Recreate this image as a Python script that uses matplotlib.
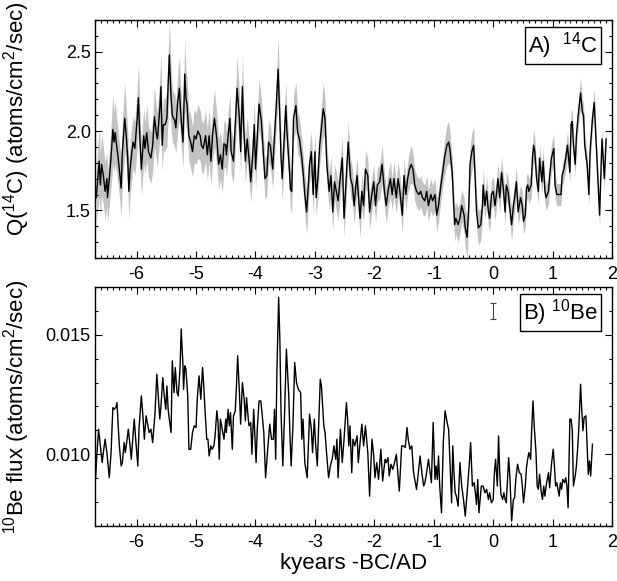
import numpy as np
import matplotlib
matplotlib.use("Agg")
import matplotlib.pyplot as plt
from matplotlib.ticker import MultipleLocator

plt.rcParams['font.family'] = ['Liberation Sans', 'DejaVu Sans']
plt.rcParams['mathtext.fontset'] = 'custom'
plt.rcParams['mathtext.rm'] = 'Liberation Sans'
plt.rcParams['axes.unicode_minus'] = False

# --- 14C production rate (kyears BC/AD) ---
c14_year = np.array([
    -6.68, -6.65, -6.63, -6.61, -6.59, -6.56, -6.53, -6.50, -6.49, -6.46,
    -6.44, -6.42, -6.40, -6.38, -6.36, -6.34, -6.31, -6.28, -6.26, -6.24,
    -6.20, -6.17, -6.15, -6.13, -6.11, -6.08, -6.06, -6.03, -5.99, -5.97,
    -5.94, -5.92, -5.88, -5.86, -5.83, -5.80, -5.76, -5.73, -5.70, -5.67,
    -5.65, -5.61, -5.59, -5.57, -5.55, -5.52, -5.49, -5.47, -5.45, -5.42,
    -5.40, -5.38, -5.36, -5.34, -5.31, -5.28, -5.26, -5.22, -5.19, -5.17,
    -5.15, -5.12, -5.09, -5.06, -5.03, -5.00, -4.97, -4.93, -4.91, -4.88,
    -4.84, -4.81, -4.78, -4.75, -4.72, -4.69, -4.65, -4.62, -4.59, -4.56,
    -4.53, -4.50, -4.49, -4.46, -4.43, -4.41, -4.37, -4.35, -4.31, -4.27,
    -4.25, -4.22, -4.20, -4.17, -4.14, -4.10, -4.08, -4.05, -4.02, -4.00,
    -3.97, -3.94, -3.90, -3.87, -3.84, -3.81, -3.78, -3.75, -3.71, -3.68,
    -3.65, -3.62, -3.59, -3.57, -3.55, -3.52, -3.49, -3.47, -3.43, -3.41,
    -3.39, -3.36, -3.32, -3.29, -3.26, -3.22, -3.19, -3.17, -3.14, -3.11,
    -3.09, -3.06, -3.03, -3.00, -2.98, -2.95, -2.92, -2.89, -2.86, -2.83,
    -2.80, -2.76, -2.73, -2.70, -2.67, -2.64, -2.61, -2.57, -2.54, -2.51,
    -2.47, -2.44, -2.40, -2.37, -2.34, -2.31, -2.29, -2.27, -2.24, -2.21,
    -2.18, -2.15, -2.11, -2.08, -2.05, -2.01, -1.98, -1.95, -1.91, -1.87,
    -1.83, -1.80, -1.77, -1.73, -1.70, -1.67, -1.63, -1.60, -1.57, -1.53,
    -1.50, -1.47, -1.44, -1.41, -1.38, -1.35, -1.32, -1.29, -1.25, -1.22,
    -1.19, -1.15, -1.12, -1.09, -1.05, -1.02, -0.98, -0.95, -0.92, -0.88,
    -0.85, -0.82, -0.78, -0.75, -0.73, -0.69, -0.67, -0.65, -0.63, -0.59,
    -0.56, -0.53, -0.49, -0.47, -0.44, -0.41, -0.39, -0.36, -0.33, -0.31,
    -0.28, -0.25, -0.21, -0.18, -0.17, -0.14, -0.11, -0.08, -0.06, -0.03,
    0.00, 0.03, 0.06, 0.08, 0.11, 0.14, 0.17, 0.20, 0.22, 0.25,
    0.28, 0.31, 0.34, 0.36, 0.39, 0.42, 0.46, 0.49, 0.51, 0.54,
    0.56, 0.58, 0.60, 0.64, 0.66, 0.68, 0.70, 0.73, 0.76, 0.78,
    0.82, 0.84, 0.87, 0.89, 0.93, 0.95, 0.98, 1.02, 1.04, 1.07,
    1.11, 1.14, 1.16, 1.19, 1.22, 1.25, 1.29, 1.31, 1.33, 1.35,
    1.38, 1.40, 1.43, 1.47, 1.50, 1.52, 1.54, 1.58, 1.61, 1.63,
    1.67, 1.70, 1.72, 1.76, 1.79, 1.81, 1.83, 1.87, 1.90,
])
c14_q = np.array([
    1.58, 1.72, 1.81, 1.66, 1.79, 1.72, 1.62, 1.70, 1.58, 1.70,
    1.79, 1.89, 2.01, 1.93, 1.99, 1.92, 1.83, 1.72, 1.64, 1.87,
    2.08, 1.95, 1.83, 1.62, 1.76, 1.87, 1.93, 1.89, 2.08, 2.21,
    1.91, 1.76, 1.97, 1.89, 1.99, 1.87, 1.83, 1.91, 2.09, 1.99,
    1.95, 2.14, 2.28, 1.91, 2.04, 2.04, 2.08, 2.29, 2.48, 2.21,
    2.10, 2.08, 2.07, 2.02, 2.18, 2.27, 2.12, 1.93, 2.36, 2.21,
    2.16, 1.97, 1.93, 1.87, 1.97, 1.95, 2.00, 1.97, 1.91, 1.89,
    1.97, 1.85, 1.97, 1.81, 1.99, 2.08, 1.95, 1.79, 1.85, 1.76,
    1.92, 1.91, 1.85, 1.97, 2.08, 1.87, 1.81, 1.97, 2.27, 2.08,
    1.87, 2.28, 2.04, 1.81, 1.95, 1.79, 1.68, 1.83, 2.04, 1.76,
    1.97, 2.17, 2.06, 1.87, 1.70, 1.72, 1.93, 1.91, 1.76, 1.97,
    2.16, 2.39, 2.08, 1.83, 1.70, 1.93, 2.16, 1.99, 1.76, 1.63,
    1.62, 2.08, 2.16, 1.99, 1.95, 1.83, 1.70, 1.60, 1.49, 1.66,
    1.79, 1.87, 1.60, 1.87, 1.58, 1.70, 1.91, 2.02, 2.14, 2.08,
    1.79, 1.62, 1.72, 1.49, 1.68, 1.62, 1.56, 1.72, 1.83, 1.45,
    1.72, 1.93, 1.70, 1.66, 1.53, 1.66, 1.72, 1.60, 1.45, 1.62,
    1.53, 1.76, 1.72, 1.49, 1.58, 1.68, 1.53, 1.66, 1.68, 1.79,
    1.62, 1.53, 1.62, 1.70, 1.60, 1.70, 1.58, 1.70, 1.62, 1.47,
    1.72, 1.60, 1.70, 1.76, 1.79, 1.76, 1.66, 1.62, 1.60, 1.62,
    1.58, 1.56, 1.62, 1.53, 1.60, 1.56, 1.60, 1.47, 1.53, 1.66,
    1.74, 1.83, 1.91, 1.93, 1.89, 1.74, 1.58, 1.41, 1.45, 1.41,
    1.45, 1.53, 1.47, 1.39, 1.33, 1.53, 1.79, 1.87, 1.91, 1.76,
    1.49, 1.39, 1.41, 1.53, 1.66, 1.53, 1.62, 1.49, 1.45, 1.60,
    1.62, 1.53, 1.62, 1.70, 1.58, 1.74, 1.64, 1.49, 1.66, 1.62,
    1.51, 1.41, 1.53, 1.58, 1.68, 1.49, 1.58, 1.53, 1.43, 1.47,
    1.64, 1.66, 1.62, 1.66, 1.83, 1.91, 1.87, 1.70, 1.62, 1.83,
    1.68, 1.81, 1.62, 1.58, 1.62, 1.72, 1.83, 1.89, 1.66, 1.60,
    1.60, 1.60, 1.72, 1.76, 1.83, 1.91, 1.74, 2.04, 2.06, 1.91,
    1.79, 1.97, 2.10, 2.24, 2.12, 2.10, 1.91, 1.79, 1.60, 1.87,
    2.08, 2.18, 2.02, 1.70, 1.47, 1.72, 1.95, 1.70, 1.95,
])
c14_err = np.array([
    0.17, 0.20, 0.22, 0.19, 0.20, 0.18, 0.18, 0.17, 0.16, 0.17,
    0.18, 0.20, 0.22, 0.19, 0.20, 0.18, 0.17, 0.17, 0.19, 0.20,
    0.22, 0.18, 0.17, 0.18, 0.17, 0.17, 0.16, 0.17, 0.19, 0.22,
    0.17, 0.17, 0.18, 0.16, 0.18, 0.16, 0.16, 0.17, 0.19, 0.17,
    0.17, 0.19, 0.21, 0.17, 0.17, 0.16, 0.18, 0.20, 0.22, 0.19,
    0.17, 0.16, 0.17, 0.16, 0.18, 0.20, 0.17, 0.16, 0.22, 0.18,
    0.17, 0.16, 0.17, 0.16, 0.17, 0.16, 0.17, 0.16, 0.16, 0.16,
    0.16, 0.16, 0.17, 0.16, 0.17, 0.18, 0.16, 0.16, 0.15, 0.15,
    0.15, 0.14, 0.14, 0.15, 0.16, 0.14, 0.14, 0.15, 0.20, 0.17,
    0.14, 0.20, 0.16, 0.14, 0.14, 0.14, 0.13, 0.14, 0.15, 0.13,
    0.14, 0.16, 0.14, 0.13, 0.13, 0.13, 0.14, 0.13, 0.13, 0.14,
    0.15, 0.20, 0.15, 0.13, 0.13, 0.14, 0.15, 0.13, 0.13, 0.13,
    0.13, 0.14, 0.15, 0.13, 0.13, 0.12, 0.12, 0.13, 0.14, 0.13,
    0.12, 0.13, 0.13, 0.12, 0.12, 0.12, 0.13, 0.14, 0.17, 0.13,
    0.12, 0.12, 0.12, 0.12, 0.11, 0.12, 0.12, 0.12, 0.13, 0.12,
    0.12, 0.13, 0.12, 0.11, 0.12, 0.11, 0.11, 0.11, 0.12, 0.11,
    0.11, 0.12, 0.11, 0.11, 0.11, 0.11, 0.11, 0.11, 0.11, 0.12,
    0.11, 0.11, 0.11, 0.11, 0.10, 0.11, 0.10, 0.11, 0.10, 0.11,
    0.11, 0.10, 0.10, 0.11, 0.12, 0.10, 0.10, 0.10, 0.10, 0.10,
    0.10, 0.10, 0.10, 0.10, 0.10, 0.10, 0.10, 0.11, 0.10, 0.10,
    0.10, 0.11, 0.13, 0.13, 0.11, 0.10, 0.10, 0.11, 0.10, 0.11,
    0.10, 0.10, 0.11, 0.12, 0.13, 0.11, 0.11, 0.12, 0.12, 0.10,
    0.10, 0.11, 0.10, 0.09, 0.10, 0.09, 0.09, 0.09, 0.09, 0.09,
    0.09, 0.09, 0.09, 0.10, 0.09, 0.10, 0.09, 0.09, 0.09, 0.09,
    0.09, 0.10, 0.09, 0.09, 0.09, 0.09, 0.08, 0.08, 0.08, 0.08,
    0.08, 0.08, 0.08, 0.08, 0.09, 0.10, 0.09, 0.08, 0.08, 0.09,
    0.08, 0.09, 0.08, 0.08, 0.08, 0.08, 0.09, 0.09, 0.08, 0.07,
    0.07, 0.07, 0.07, 0.07, 0.08, 0.09, 0.07, 0.08, 0.08, 0.07,
    0.07, 0.07, 0.08, 0.10, 0.08, 0.08, 0.07, 0.07, 0.07, 0.07,
    0.07, 0.08, 0.07, 0.07, 0.08, 0.07, 0.07, 0.07, 0.07,
])

# --- 10Be flux, in 1e-3 atoms/cm2/sec ---
be_year = np.array([
    -6.69, -6.67, -6.64, -6.61, -6.58, -6.56, -6.53, -6.50, -6.46, -6.43,
    -6.40, -6.38, -6.35, -6.33, -6.31, -6.29, -6.26, -6.24, -6.21, -6.19,
    -6.16, -6.14, -6.11, -6.09, -6.06, -6.04, -6.02, -5.98, -5.96, -5.92,
    -5.89, -5.87, -5.84, -5.82, -5.79, -5.76, -5.73, -5.69, -5.66, -5.64,
    -5.61, -5.59, -5.56, -5.54, -5.51, -5.49, -5.47, -5.45, -5.42, -5.40,
    -5.37, -5.35, -5.32, -5.30, -5.27, -5.25, -5.22, -5.21, -5.19, -5.17,
    -5.14, -5.12, -5.09, -5.06, -5.03, -5.00, -4.98, -4.95, -4.92, -4.89,
    -4.87, -4.85, -4.82, -4.80, -4.78, -4.75, -4.73, -4.70, -4.68, -4.65,
    -4.63, -4.61, -4.59, -4.55, -4.53, -4.50, -4.49, -4.46, -4.44, -4.42,
    -4.39, -4.37, -4.34, -4.32, -4.30, -4.27, -4.25, -4.22, -4.19, -4.17,
    -4.15, -4.13, -4.11, -4.08, -4.06, -4.03, -3.99, -3.97, -3.94, -3.91,
    -3.89, -3.86, -3.83, -3.79, -3.76, -3.73, -3.70, -3.68, -3.66, -3.64,
    -3.61, -3.59, -3.57, -3.54, -3.51, -3.48, -3.44, -3.42, -3.40, -3.37,
    -3.34, -3.31, -3.28, -3.24, -3.22, -3.20, -3.17, -3.13, -3.11, -3.09,
    -3.06, -3.04, -3.01, -2.99, -2.96, -2.93, -2.91, -2.89, -2.85, -2.83,
    -2.80, -2.77, -2.74, -2.71, -2.68, -2.65, -2.63, -2.61, -2.57, -2.54,
    -2.51, -2.47, -2.45, -2.43, -2.41, -2.38, -2.36, -2.33, -2.29, -2.27,
    -2.24, -2.21, -2.18, -2.15, -2.11, -2.08, -2.04, -2.01, -1.99, -1.96,
    -1.93, -1.89, -1.86, -1.82, -1.80, -1.77, -1.75, -1.72, -1.69, -1.66,
    -1.63, -1.61, -1.58, -1.54, -1.51, -1.48, -1.45, -1.43, -1.40, -1.37,
    -1.34, -1.31, -1.29, -1.26, -1.23, -1.20, -1.17, -1.15, -1.12, -1.09,
    -1.06, -1.04, -1.01, -0.98, -0.96, -0.94, -0.92, -0.90, -0.87, -0.84,
    -0.81, -0.77, -0.75, -0.73, -0.70, -0.68, -0.66, -0.64, -0.62, -0.59,
    -0.56, -0.53, -0.50, -0.47, -0.44, -0.40, -0.38, -0.35, -0.32, -0.30,
    -0.28, -0.26, -0.24, -0.20, -0.17, -0.14, -0.11, -0.08, -0.06, -0.03,
    0.00, 0.02, 0.04, 0.07, 0.09, 0.11, 0.13, 0.16, 0.18, 0.20,
    0.22, 0.26, 0.28, 0.31, 0.34, 0.36, 0.38, 0.41, 0.44, 0.47,
    0.49, 0.51, 0.54, 0.56, 0.58, 0.60, 0.63, 0.65, 0.67, 0.69,
    0.72, 0.74, 0.76, 0.78, 0.81, 0.83, 0.85, 0.87, 0.89, 0.93,
    0.95, 0.98, 1.01, 1.03, 1.05, 1.07, 1.11, 1.13, 1.15, 1.17,
    1.20, 1.22, 1.24, 1.26, 1.29, 1.31, 1.33, 1.35, 1.38, 1.40,
    1.42, 1.44, 1.47, 1.49, 1.51, 1.53, 1.56, 1.58, 1.60, 1.62,
    1.64, 1.67,
])
be_flux_e3 = np.array([
    9.02, 9.93, 11.05, 10.35, 9.65, 10.07, 10.63, 10.07, 9.02, 10.07,
    11.95, 11.88, 11.95, 12.16, 11.19, 10.35, 9.51, 9.65, 10.49, 10.07,
    10.63, 11.05, 10.35, 9.79, 10.77, 11.47, 10.77, 9.51, 11.05, 12.44,
    11.47, 10.63, 11.61, 11.33, 10.91, 11.05, 10.49, 11.74, 13.35, 12.58,
    11.47, 12.02, 13.21, 12.58, 11.88, 12.86, 11.88, 11.47, 10.91, 13.91,
    12.58, 13.63, 12.58, 12.44, 13.56, 15.24, 13.70, 12.72, 13.70, 13.56,
    12.44, 10.21, 10.21, 10.91, 11.19, 11.12, 12.30, 13.28, 12.30, 13.63,
    12.86, 11.88, 10.63, 10.63, 9.93, 10.35, 10.21, 10.35, 10.77, 11.82,
    11.33, 9.79, 11.47, 10.91, 10.63, 11.47, 10.91, 11.88, 11.19, 11.74,
    10.21, 11.61, 11.82, 12.86, 14.12, 12.58, 11.26, 13.00, 12.30, 11.40,
    12.37, 11.74, 11.19, 11.33, 10.00, 11.88, 9.65, 11.05, 12.23, 12.23,
    11.74, 10.91, 9.02, 10.35, 11.26, 10.63, 10.63, 11.88, 9.79, 13.42,
    16.57, 14.82, 11.74, 9.51, 11.74, 14.40, 12.44, 10.77, 9.51, 11.19,
    13.84, 13.00, 12.72, 12.58, 10.63, 11.47, 9.65, 9.02, 10.35, 11.68,
    11.05, 10.07, 11.47, 10.49, 9.51, 11.74, 13.14, 12.86, 11.19, 10.91,
    9.93, 9.02, 9.51, 9.79, 10.35, 9.79, 10.63, 9.02, 11.05, 9.65,
    10.63, 12.16, 11.47, 10.35, 11.19, 9.23, 10.63, 10.35, 10.77, 9.65,
    10.49, 11.26, 10.35, 11.19, 10.07, 8.25, 10.63, 9.93, 9.02, 9.65,
    8.95, 10.21, 8.88, 9.79, 9.65, 9.86, 9.09, 9.58, 9.37, 9.65,
    10.00, 9.37, 8.46, 10.35, 10.35, 10.28, 11.12, 10.63, 10.21, 10.35,
    9.23, 8.81, 8.53, 9.23, 9.93, 9.23, 8.67, 8.81, 9.23, 9.79,
    9.23, 8.81, 11.33, 8.95, 9.51, 8.95, 9.93, 8.67, 7.55, 10.49,
    11.82, 11.26, 11.05, 9.79, 7.97, 10.35, 9.23, 8.39, 8.25, 7.83,
    9.65, 8.67, 8.11, 7.41, 8.39, 9.65, 10.49, 8.67, 8.81, 8.39,
    7.90, 8.95, 7.55, 8.67, 8.67, 8.39, 8.53, 8.11, 8.39, 7.97,
    8.11, 9.23, 9.79, 8.67, 10.77, 9.23, 8.32, 8.11, 8.39, 8.11,
    7.97, 9.86, 9.09, 7.20, 8.11, 8.18, 8.95, 9.58, 9.23, 9.16,
    8.67, 7.97, 8.67, 9.44, 9.79, 10.07, 9.79, 11.19, 12.23, 11.19,
    10.07, 8.67, 8.53, 9.16, 8.39, 8.11, 8.67, 8.25, 8.67, 9.23,
    8.60, 9.58, 10.21, 9.51, 8.67, 8.81, 8.25, 8.81, 8.53, 8.95,
    8.81, 9.02, 8.67, 7.76, 11.47, 11.47, 11.05, 8.67, 9.09, 9.51,
    10.21, 11.05, 12.93, 11.88, 10.98, 11.54, 11.61, 10.35, 9.16, 9.72,
    9.09, 10.42,
])
be_flux = be_flux_e3 * 1e-3

# typical 10Be uncertainty bar
errbar_year = [0.0]
errbar_flux = [0.0160]
errbar_err = [0.00032]

fig = plt.figure(figsize=(6.17, 5.81), dpi=100)
ax1 = fig.add_axes([0.154, 0.556, 0.838, 0.4096])
ax2 = fig.add_axes([0.154, 0.0947, 0.838, 0.4114])

# --- panel A ---
ax1.fill_between(c14_year, c14_q - c14_err, c14_q + c14_err,
                 color='#c3c3c3', lw=0)
ax1.plot(c14_year, c14_q, color='black', lw=1.0)
ax1.set_xlim(-6.7, 2.0)
ax1.set_ylim(1.2, 2.7)
ax1.yaxis.set_major_locator(MultipleLocator(0.5))
ax1.yaxis.set_minor_locator(MultipleLocator(0.1))
ax1.yaxis.set_major_formatter(plt.FormatStrFormatter('%.1f'))
ax1.set_ylabel(r'Q($\mathregular{^{14}}$C) (atoms/cm$\mathregular{^2}$/sec)',
               fontsize=16)
ax1.yaxis.set_label_coords(-0.122, 0.585)
ax1.text(0.973, 0.958, r'A)  $\mathregular{^{14}}$C', transform=ax1.transAxes,
         ha='right', va='top', fontsize=16,
         bbox=dict(boxstyle='square,pad=0.15', fc='white', ec='black', lw=1))

# --- panel B ---
ax2.plot(be_year, be_flux, color='black', lw=1.0)
ax2.errorbar(errbar_year, errbar_flux, yerr=errbar_err, color='#444444',
             capsize=2.5, lw=0.8, capthick=0.8)
ax2.set_xlim(-6.7, 2.0)
ax2.set_ylim(0.007, 0.017)
ax2.yaxis.set_major_locator(MultipleLocator(0.005))
ax2.yaxis.set_minor_locator(MultipleLocator(0.001))
ax2.yaxis.set_major_formatter(plt.FormatStrFormatter('%.3f'))
ax2.set_ylabel(r'$\mathregular{^{10}}$Be flux (atoms/cm$\mathregular{^2}$/sec)',
               fontsize=16)
ax2.yaxis.set_label_coords(-0.122, 0.5)
ax2.set_xlabel('kyears -BC/AD', fontsize=16, labelpad=1)
ax2.text(0.973, 0.958, r'B) $\mathregular{^{10}}$Be', transform=ax2.transAxes,
         ha='right', va='top', fontsize=16,
         bbox=dict(boxstyle='square,pad=0.15', fc='white', ec='black', lw=1))

for ax in (ax1, ax2):
    ax.xaxis.set_major_locator(MultipleLocator(1))
    ax.xaxis.set_minor_locator(MultipleLocator(0.1))
    ax.tick_params(which='both', direction='in', top=True, right=True,
                   labelsize=13, width=0.8)
    ax.tick_params(which='major', length=5)
    ax.tick_params(which='minor', length=2.5)
    ax.tick_params(axis='x', pad=6)
    ax.tick_params(axis='y', pad=3)
    for s in ax.spines.values():
        s.set_linewidth(1.0)

fig.savefig('out.png', dpi=100)
